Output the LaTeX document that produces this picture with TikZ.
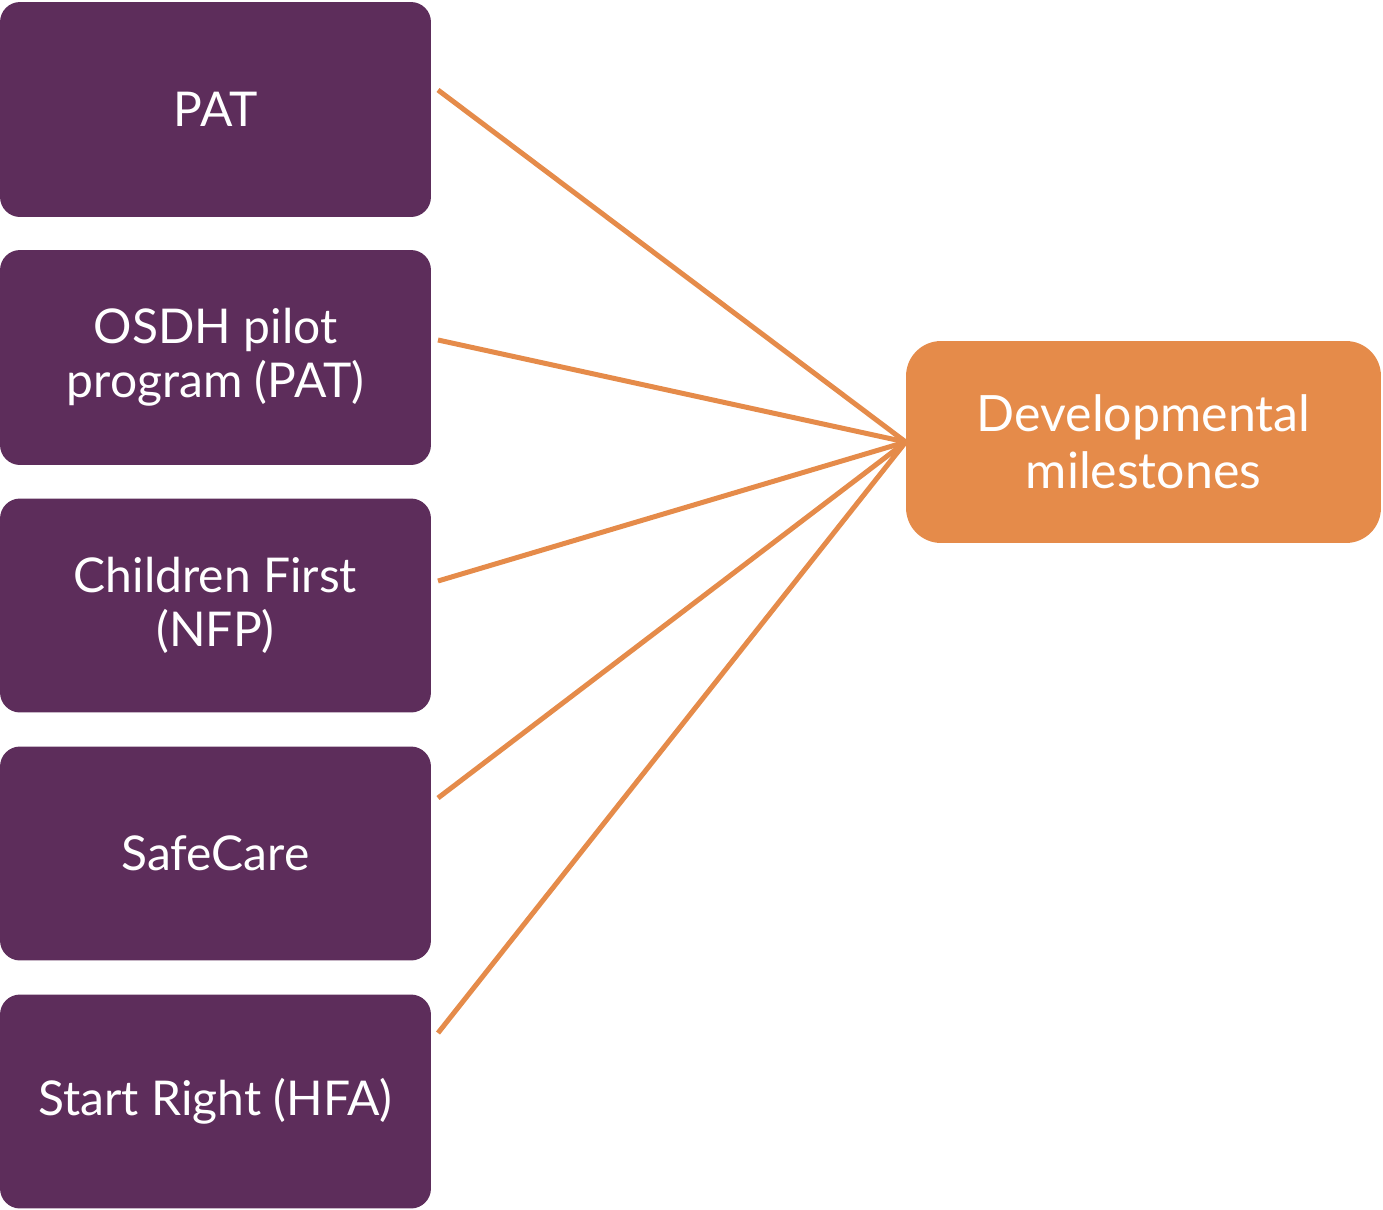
\documentclass[tikz,border=0pt]{standalone}
\usepackage{fontspec}
\setmainfont{Lato}
\definecolor{plum}{HTML}{5D2D5B}
\definecolor{tang}{HTML}{E58B4A}
\begin{document}
\begin{tikzpicture}[x=0.02cm,y=-0.02cm,
  prog/.style={fill=plum,rounded corners=0.4cm,minimum width=8.62cm,minimum height=4.28cm,
    text=white,align=center,font=\fontsize{27.3}{30.5}\selectfont,inner sep=0pt},
  outc/.style={fill=tang,rounded corners=0.7cm,minimum width=9.5cm,minimum height=4.04cm,
    text=white,align=center,font=\fontsize{28.5}{32.5}\selectfont,inner sep=0pt},
  link/.style={draw=tang,line width=0.1cm}]
\useasboundingbox (0,0) rectangle (1383,1210);
\node[prog,minimum height=4.3cm] (p1) at (215.5,109.5) {PAT};
\node[prog,minimum height=4.3cm] (p2) at (215.5,357.5) {OSDH pilot\\program (PAT)};
\node[prog] (p3) at (215.5,605.5) {Children First\\(NFP)};
\node[prog] (p4) at (215.5,853.5) {SafeCare};
\node[prog] (p5) at (215.5,1101.5) {Start Right (HFA)};
\node[outc] (dev) at (1143.5,442) {Developmental\\milestones};
\coordinate (s1) at (438,90);
\coordinate (s2) at (438,340);
\coordinate (s3) at (438,581);
\coordinate (s4) at (438,798);
\coordinate (s5) at (438,1033);
\foreach \s in {s1,s2,s3,s4,s5} \draw[link] (\s) -- (dev.west);
\end{tikzpicture}
\end{document}
